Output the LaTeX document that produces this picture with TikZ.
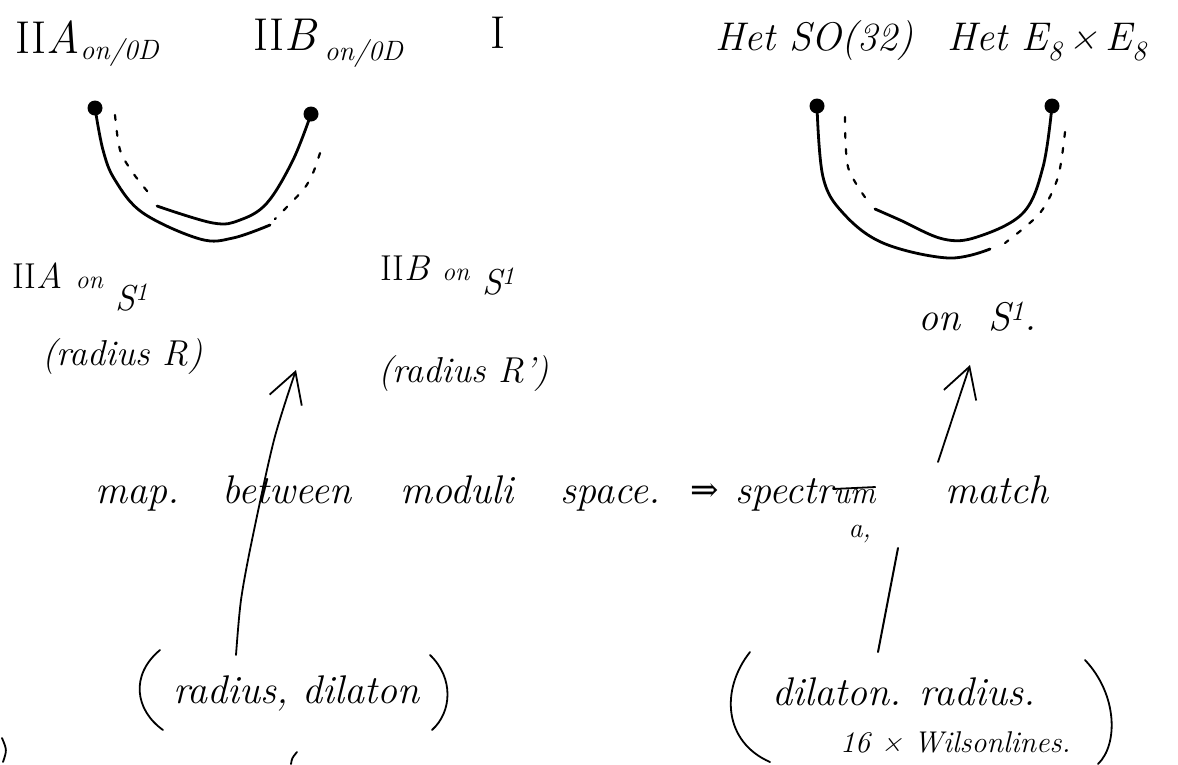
\documentclass[tikz,border=0pt]{standalone}
\usepackage{fontspec}
\usetikzlibrary{arrows.meta}
\newfontfamily\symfont{DejaVu Serif}
\begin{document}
\begin{tikzpicture}[x=1pt,y=-1pt,
  big/.style={inner sep=0pt, anchor=base west, font=\fontsize{46}{50}\selectfont\itshape},
  hw/.style={inner sep=0pt, anchor=base west, font=\fontsize{40}{48}\selectfont\itshape},
  mid/.style={inner sep=0pt, anchor=base west, font=\fontsize{36}{40}\selectfont\itshape},
  sub/.style={inner sep=0pt, anchor=base west, font=\fontsize{28}{32}\selectfont\itshape},
  small/.style={inner sep=0pt, anchor=base west, font=\fontsize{30}{34}\selectfont\itshape},
  curve/.style={line width=2.8pt, line cap=round},
  dashcurve/.style={line width=2.2pt, dash pattern=on 5pt off 11pt, line cap=round},
  dotn/.style={circle, fill, inner sep=0pt, minimum size=15pt},
  paren/.style={line width=1.8pt, line cap=round},
  arr/.style={line width=1.8pt, line cap=round, -{Straight Barb[length=30pt, width=34pt, line width=1.8pt]}},
]
\useasboundingbox[fill=white] (0,0) rectangle (1178,764);

% ---- top labels
\node[big] (iiaT) at (15,53) {\upshape II\itshape A};
\node[sub] (iiaTs) at ([yshift=-6pt]iiaT.base east) {on/0D};
\node[big] (iibT) at (253,50) {\upshape II\itshape B};
\node[sub] (iibTs) at ([xshift=8pt,yshift=-10pt]iibT.base east) {on/0D};
\node[big] (iT) at (490,48) {\upshape I};
\node[hw] (soT) at (715,50) {Het SO(32)};
\node[hw] (eT) at (947,50) {Het E\textsubscript{8}\,×\,E\textsubscript{8}};

% ---- left arcs
\node[dotn] (dA) at (95,108) {};
\node[dotn] (dB) at (311,114) {};
\coordinate (eA) at (270,225);
\coordinate (eB) at (157,206);
\draw[curve] plot[smooth, tension=0.6] coordinates {(dA) (103,150) (115,180) (143,213) (200,239) (233,238) (eA)};
\draw[curve] plot[smooth, tension=0.6] coordinates {(dB) (293,160) (267,203) (240,220) (213,223) (eB)};
\draw[dashcurve] plot[smooth] coordinates {(115,115) (120,150) (133,173) (152,197)};
\draw[dashcurve] plot[smooth] coordinates {(320,153) (313,173) (303,190) (275,219)};

% ---- right arcs
\node[dotn] (dC) at (817,106) {};
\node[dotn] (dD) at (1052,106) {};
\coordinate (eC) at (990,249);
\coordinate (eD) at (875,209);
\draw[curve] plot[smooth, tension=0.6] coordinates {(dC) (823,177) (843,213) (883,243) (948,258) (eC)};
\draw[curve] plot[smooth, tension=0.6] coordinates {(dD) (1043,167) (1023,213) (977,237) (943,239) (900,220) (eD)};
\draw[dashcurve] plot[smooth] coordinates {(845,117) (848,167) (867,200)};
\draw[dashcurve] plot[smooth] coordinates {(1065,132) (1058,177) (1040,213) (1005,243)};

% ---- middle labels
\node[mid] (iiaM) at (12,288)
  {\upshape II\itshape A\ {\fontsize{26}{30}\selectfont on}\ \raisebox{-22pt}{S\textsuperscript{1}}};
\node[mid] (radR) at (42,365) {(radius R)};
\node[mid] (iibM) at (380,280)
  {\upshape II\itshape B\ {\fontsize{26}{30}\selectfont on}\ \raisebox{-14pt}{S\textsuperscript{1}}};
\node[mid] (radRp) at (378,382) {(radius R')};
\node[hw] (onS) at (918,330) {on\ \ S\textsuperscript{1}.};

% ---- sentence
\node[hw] (wmap) at (95,503) {map.};
\node[hw] (wbet) at (222,503) {between};
\node[hw] (wmod) at (400,503) {moduli};
\node[hw] (wspa) at (560,503) {space.};
\node[hw, font=\fontsize{34}{40}\selectfont\symfont] (wimp) at (690,501) {⇒};
\node[hw] (wspe) at (735,503) {spectr};
\node[hw, font=\fontsize{32}{36}\selectfont\itshape] (wum) at (wspe.base east) {um};
\draw[line width=1.8pt] ([yshift=14pt]wum.base west) -- ([yshift=16pt]wum.base east);
\node[sub] (wa) at ([xshift=-6pt,yshift=-34pt]wum.base) {a,};
\node[hw] (wmat) at (945,503) {match};

% ---- arrow 1
\coordinate (a1s) at (236,655);
\coordinate (a1t) at (296,370);
\draw[arr] plot[smooth] coordinates {(a1s) (241,600) (252,540) (274,440) (a1t)};

% ---- arrow 2
\coordinate (a2s) at (878,652);
\coordinate (a2m) at (898,548);
\coordinate (a2n) at (938,462);
\coordinate (a2t) at (970,365);
\draw[line width=2pt, line cap=round] (a2s) -- (a2m);
\draw[arr] (a2n) -- (a2t);

% ---- (radius, dilaton)
\node[hw] (rdil) at (173,703) {radius, dilaton};
\draw[paren] (160,650) .. controls (130,675) and (135,710) .. (163,730);
\draw[paren] (430,655) .. controls (454,678) and (452,712) .. (432,730);

% ---- (dilaton, radius, 16 x Wilson lines)
\node[hw] (dilr) at (772,705) {dilaton. radius.};
\node[small] (wil) at (840,752) {16 × Wilsonlines.};
\draw[paren] (750,652) .. controls (720,690) and (724,742) .. (770,762);
\draw[paren] (1085,660) .. controls (1118,695) and (1118,745) .. (1098,764);

% ---- cut-off strokes at the bottom edge
\draw[paren] (2,738) .. controls (7,750) .. (3,762);
\draw[paren] (297,752) .. controls (292,758) .. (291,764);
\end{tikzpicture}
\end{document}
